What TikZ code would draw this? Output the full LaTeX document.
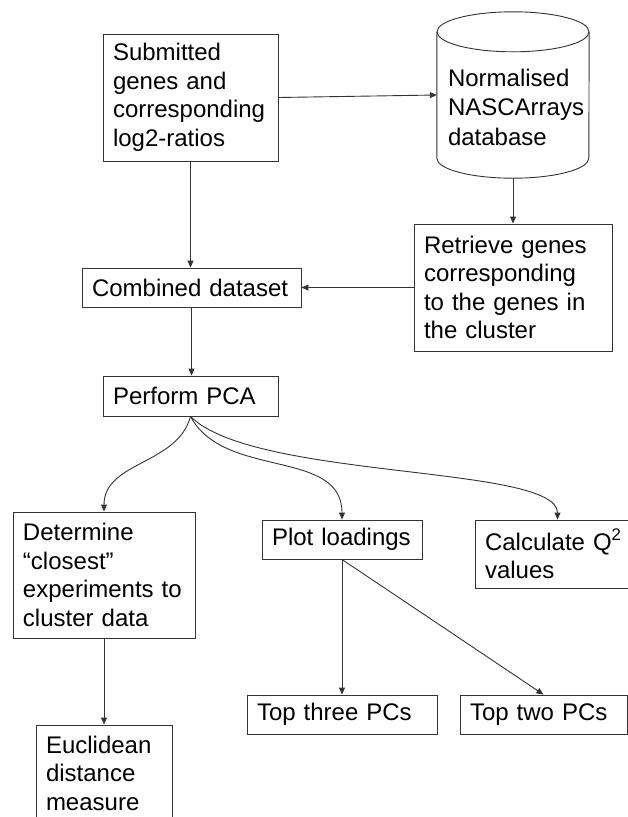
\documentclass[tikz,border=0pt]{standalone}
\usepackage{fontspec}
\setmainfont{Liberation Sans}
\usepackage{tikz}
\usetikzlibrary{arrows.meta,positioning,calc}

\begin{document}
\begin{tikzpicture}[
  x=1pt, y=1pt,
  line/.style={draw=black!80, line width=0.9pt},
  arr/.style={line, -{Triangle[length=7pt,width=6pt]}},
  box/.style={rectangle, line, align=left, inner xsep=10pt, inner ysep=2pt,
              font=\fontsize{24pt}{28.5pt}\selectfont},
]
\useasboundingbox (0,0) rectangle (628,-817);

\node[box, text width=155pt, minimum height=127pt] (sub) at (190.5,-97.5) {Submitted\\ genes and\\ corresponding\\ log2-ratios};

\node[minimum width=152pt, minimum height=166pt, inner sep=0pt] (db) at (513,-95) {};
\draw[line] ([yshift=-20pt]db.north west) -- ([yshift=20pt]db.south west)
  arc[start angle=180, end angle=360, x radius=76pt, y radius=20pt] -- ([yshift=-20pt]db.north east);
\draw[line] ([yshift=-20pt]db.north) ellipse[x radius=76pt, y radius=20pt];
\node[align=left, text width=138pt, inner sep=0pt, font=\fontsize{24pt}{29.5pt}\selectfont] (dbtext) at (517,-107) {Normalised\\ NASCArrays\\ database};

\node[box, text width=178pt, minimum height=127pt] (ret) at (513,-287.5) {Retrieve genes\\ corresponding\\ to the genes in\\ the cluster};
\node[box, text width=199pt, minimum height=39pt] (comb) at (191.5,-287.5) {Combined dataset};
\node[box, text width=155pt, minimum height=40pt] (pca) at (190.5,-396) {Perform PCA};

\node[box, text width=162pt, minimum height=126pt] (det) at (104,-575) {Determine\\ ``closest''\\ experiments to\\ cluster data};
\node[box, text width=140pt, minimum height=39pt] (plot) at (342,-539.5) {Plot loadings};
\node[box, text width=137pt, minimum height=68pt] (calc) at (553.5,-554) {Calculate Q\textsuperscript{2}\\ values};

\node[box, text width=170pt, minimum height=39pt] (three) at (342,-714.5) {Top three PCs};
\node[box, text width=147pt, minimum height=39pt] (two) at (543.5,-714.5) {Top two PCs};
\node[box, text width=116pt, minimum height=96pt] (euc) at (104,-773) {Euclidean\\ distance\\ measure};

\draw[arr] (sub.east) -- (db.west);
\draw[arr] (db.south) -- (ret.north);
\draw[arr] (sub.south) -- (sub.south |- comb.north);
\draw[arr] (ret.west) -- (comb.east);
\draw[arr] (comb.south) -- (comb.south |- pca.north);

\draw[arr] (pca.south) to[out=-105, in=90] (det.north);
\draw[arr] (pca.south) to[out=-62, in=90] (plot.north);
\draw[arr] (pca.south) to[out=-45, in=90, out distance=90pt, in distance=55pt] ([xshift=4pt]calc.north);

\draw[arr] (plot) -- (three);
\draw[arr] (plot.south) -- (two.north);
\draw[arr] (det) -- (euc);
\end{tikzpicture}
\end{document}
